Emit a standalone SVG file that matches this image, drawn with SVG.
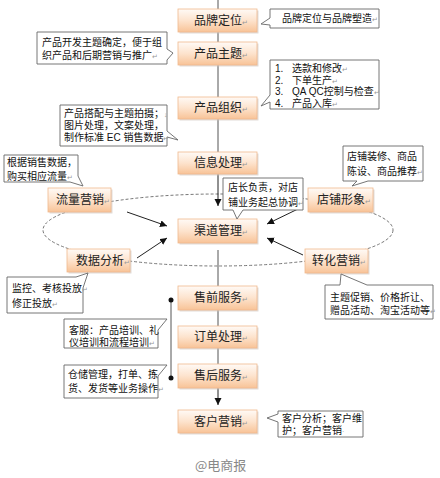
<svg xmlns="http://www.w3.org/2000/svg" width="440" height="478" viewBox="0 0 440 478">
<defs>
<linearGradient id="g" x1="0" y1="0" x2="0" y2="1">
<stop offset="0" stop-color="#fffaf6"/>
<stop offset="0.5" stop-color="#fde3cd"/>
<stop offset="1" stop-color="#f8c397"/>
</linearGradient>
<marker id="ah" markerUnits="userSpaceOnUse" markerWidth="8" markerHeight="8" refX="7" refY="3.5" orient="auto">
<path d="M0,0 L7,3.5 L0,7 z" fill="#111"/>
</marker>
</defs>
<style>
.n rect.b{fill:url(#g);stroke:#f0b98e;stroke-width:0.8}
.n rect.s{fill:#cfc7bf;opacity:0.6}
.nt{font-family:"Liberation Sans","Noto Sans CJK SC",sans-serif;font-size:12px;fill:#222}
.ct{font-family:"Liberation Sans","Noto Sans CJK SC",sans-serif;font-size:10px;fill:#111}
.m{font-size:7px;fill:#999}
.c path{fill:#fff;stroke:#666;stroke-width:0.9}
.ln{stroke:#555;stroke-width:1;fill:none}
.ar{stroke:#222;stroke-width:1;fill:none;marker-end:url(#ah)}
.el{stroke:#666;stroke-width:0.9;fill:none;stroke-dasharray:3 2}
</style>
<rect width="440" height="478" fill="#fff"/>
<g id="connectors">
<ellipse class="el" cx="218" cy="230" rx="175" ry="36"/>
<line class="ln" x1="218" y1="0" x2="218" y2="9"/>
<line class="ln" x1="218" y1="32" x2="218" y2="42"/>
<line class="ln" x1="218" y1="65" x2="218" y2="97"/>
<line class="ln" x1="218" y1="119" x2="218" y2="152"/>
<line class="ar" x1="218" y1="174" x2="218" y2="206"/>
<line class="ln" x1="218" y1="250" x2="218" y2="286"/>
<line class="ln" x1="218" y1="310" x2="218" y2="326"/>
<line class="ln" x1="218" y1="348" x2="218" y2="364"/>
<line class="ar" x1="218" y1="388" x2="218" y2="405"/>
<line class="ar" x1="127" y1="212" x2="167" y2="226"/>
<line class="ar" x1="137" y1="258" x2="167" y2="238"/>
<line class="ar" x1="300" y1="208" x2="267" y2="224"/>
<line class="ar" x1="303" y1="255" x2="267" y2="238"/>
<line class="ln" x1="171" y1="300" x2="171" y2="378"/>
<circle cx="171" cy="300" r="2.5" fill="#111"/>
<circle cx="171" cy="378" r="2.5" fill="#111"/>
</g>
<g id="n-brand" class="n"><rect class="s" x="179.5" y="10.5" width="79" height="23"/><rect class="b" x="178" y="9" width="79" height="23"/><text class="nt" x="194" y="25">品牌定位<tspan class="m">↵</tspan></text></g>
<g id="n-theme" class="n"><rect class="s" x="179.5" y="43.5" width="79" height="23"/><rect class="b" x="178" y="42" width="79" height="23"/><text class="nt" x="194" y="58">产品主题<tspan class="m">↵</tspan></text></g>
<g id="n-org" class="n"><rect class="s" x="179.5" y="98.5" width="79" height="22"/><rect class="b" x="178" y="97" width="79" height="22"/><text class="nt" x="194" y="112">产品组织<tspan class="m">↵</tspan></text></g>
<g id="n-info" class="n"><rect class="s" x="179.5" y="153.5" width="79" height="22"/><rect class="b" x="178" y="152" width="79" height="22"/><text class="nt" x="194" y="167">信息处理<tspan class="m">↵</tspan></text></g>
<g id="n-channel" class="n"><rect class="s" x="179.5" y="220.5" width="79" height="24"/><rect class="b" x="178" y="219" width="79" height="24"/><text class="nt" x="194" y="235">渠道管理<tspan class="m">↵</tspan></text></g>
<g id="n-pre" class="n"><rect class="s" x="179.5" y="287.5" width="79" height="24"/><rect class="b" x="178" y="286" width="79" height="24"/><text class="nt" x="194" y="302">售前服务<tspan class="m">↵</tspan></text></g>
<g id="n-order" class="n"><rect class="s" x="179.5" y="327.5" width="79" height="22"/><rect class="b" x="178" y="326" width="79" height="22"/><text class="nt" x="194" y="341">订单处理<tspan class="m">↵</tspan></text></g>
<g id="n-after" class="n"><rect class="s" x="179.5" y="365.5" width="79" height="24"/><rect class="b" x="178" y="364" width="79" height="24"/><text class="nt" x="194" y="380">售后服务<tspan class="m">↵</tspan></text></g>
<g id="n-cust" class="n"><rect class="s" x="179.5" y="411.5" width="79" height="23"/><rect class="b" x="178" y="410" width="79" height="23"/><text class="nt" x="194" y="426">客户营销<tspan class="m">↵</tspan></text></g>
<g id="n-traffic" class="n"><rect class="s" x="49.5" y="189.5" width="63" height="24"/><rect class="b" x="48" y="188" width="63" height="24"/><text class="nt" x="56" y="204">流量营销<tspan class="m">↵</tspan></text></g>
<g id="n-shop" class="n"><rect class="s" x="309.5" y="189.5" width="65" height="24"/><rect class="b" x="308" y="188" width="65" height="24"/><text class="nt" x="317" y="204">店铺形象<tspan class="m">↵</tspan></text></g>
<g id="n-data" class="n"><rect class="s" x="68.5" y="250.5" width="63" height="23"/><rect class="b" x="67" y="249" width="63" height="23"/><text class="nt" x="76" y="265">数据分析<tspan class="m">↵</tspan></text></g>
<g id="n-conv" class="n"><rect class="s" x="306.5" y="250.5" width="63" height="24"/><rect class="b" x="305" y="249" width="63" height="24"/><text class="nt" x="312" y="265">转化营销<tspan class="m">↵</tspan></text></g>
<g id="c-brand" class="c"><path d="M270,9 H379 V28 H270 V25 L261,24 L270,18 Z"/><text class="ct" x="282" y="22">品牌定位与品牌塑造<tspan class="m">↵</tspan></text></g>
<g id="c-theme" class="c"><path d="M37,32 H167 V49 L173,53 L167,60 V64 H37 Z"/><text class="ct" x="42" y="46">产品开发主题确定，便于组</text><text class="ct" x="42" y="59">织产品和后期营销与推广<tspan class="m">↵</tspan></text></g>
<g id="c-list" class="c"><path d="M270,60 H379 V109 H270 V102 L261,106 L270,95 Z"/><text class="ct" x="275" y="72">1.<tspan x="292">选款和修改</tspan><tspan class="m">↵</tspan></text><text class="ct" x="275" y="83.5">2.<tspan x="292">下单生产</tspan><tspan class="m">↵</tspan></text><text class="ct" x="275" y="95">3.<tspan x="292">QA QC控制与检查</tspan><tspan class="m">↵</tspan></text><text class="ct" x="275" y="106.5">4.<tspan x="292">产品入库</tspan><tspan class="m">↵</tspan></text></g>
<g id="c-photo" class="c"><path d="M60,105 H167 V131 L178,140 L167,137 V146 H60 Z"/><text class="ct" x="64" y="117">产品搭配与主题拍摄；<tspan class="m">↓</tspan></text><text class="ct" x="64" y="129">图片处理，文案处理，</text><text class="ct" x="64" y="141">制作标准 EC 销售数据<tspan class="m">↵</tspan></text></g>
<g id="c-buy" class="c"><path d="M4,155 H78 V176 L83,186 L70,182 H4 Z"/><text class="ct" x="7" y="166">根据销售数据，</text><text class="ct" x="7" y="180">购买相应流量<tspan class="m">↵</tspan></text></g>
<g id="c-deco" class="c"><path d="M343,146 H423 V181 H368 L352,186 L357,181 H343 Z"/><text class="ct" x="347" y="160">店铺装修、商品</text><text class="ct" x="347" y="175">陈设、商品推荐<tspan class="m">↵</tspan></text></g>
<g id="c-mgr" class="c"><path d="M223,178 H303 V210 H243 L237,219 L233,210 H223 Z"/><text class="ct" x="228" y="191">店长负责，对店</text><text class="ct" x="228" y="206">铺业务起总协调<tspan class="m">↵</tspan></text></g>
<g id="c-monitor" class="c"><path d="M7,277 H76 L88,273 L83,288 V313 H7 Z"/><text class="ct" x="12" y="292">监控、考核投放<tspan class="m">↵</tspan></text><text class="ct" x="12" y="307">修正投放<tspan class="m">↵</tspan></text></g>
<g id="c-promo" class="c"><path d="M325,285 H340 L341,274 L367,285 H433 V319 H325 Z"/><text class="ct" x="330" y="301">主题促销、价格折让、</text><text class="ct" x="330" y="314">赠品活动、淘宝活动等<tspan class="m">↵</tspan></text></g>
<g id="c-cs" class="c"><path d="M64,319 H151 L167,319 L158,330 V348 H64 Z"/><text class="ct" x="69" y="334">客服：产品培训、礼</text><text class="ct" x="69" y="346">仪培训和流程培训<tspan class="m">↵</tspan></text></g>
<g id="c-wh" class="c"><path d="M64,365 H151 L167,365 L158,376 V398 H64 Z"/><text class="ct" x="68" y="378" font-size="9.6">仓储管理，打单、拣</text><text class="ct" x="68" y="392" font-size="9.6">货、发货等业务操作<tspan class="m">↵</tspan></text></g>
<g id="c-cust" class="c"><path d="M278,411 H363 V437 H278 V422 L267,418 L278,414 Z"/><text class="ct" x="282" y="422">客户分析；客户维</text><text class="ct" x="282" y="434">护；客户营销<tspan class="m">·</tspan></text></g>
<text x="195" y="470" font-family="'Noto Sans CJK SC',sans-serif" font-size="13" fill="#888">@电商报</text>
</svg>
